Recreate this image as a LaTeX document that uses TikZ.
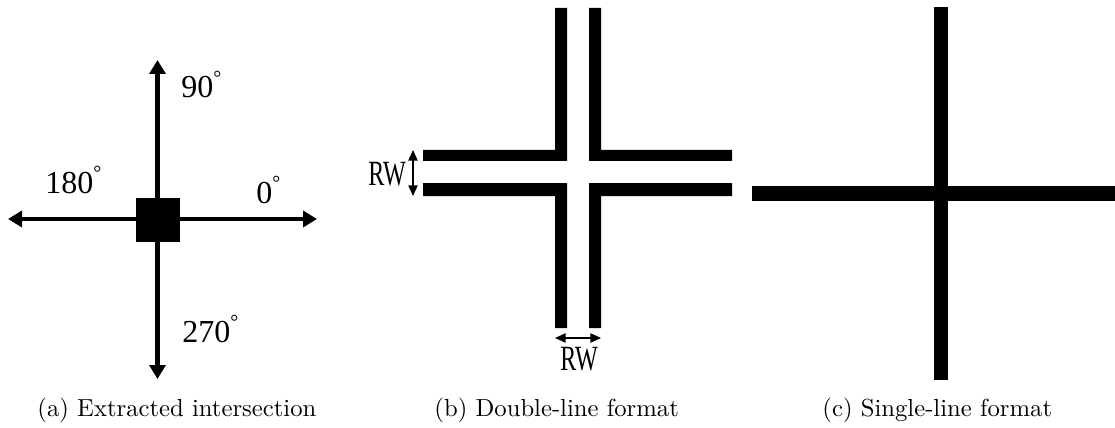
\documentclass[tikz,border=0pt]{standalone}
\usepackage{fontspec}
\newfontfamily\figfont{Liberation Serif}
\usetikzlibrary{arrows.meta}
\newcommand{\degmark}{\raisebox{0.42em}{\fontsize{15}{15}\selectfont°}}
\tikzset{
  axisline/.style={line width=3.4pt,-{Triangle[length=10.5pt,width=12pt]}},
  dimline/.style={line width=1.1pt,{Triangle[length=8pt,width=7pt]}-{Triangle[length=8pt,width=7pt]}},
  anglelab/.style={inner sep=0pt,anchor=base west,font=\figfont\fontsize{24}{24}\selectfont},
  rwlab/.style={inner sep=0pt,xscale=0.95,yscale=1.4,font=\figfont\fontsize{19}{19}\selectfont},
  captext/.style={inner sep=0pt,anchor=base west,scale=1.85,font=\fontsize{10}{12}\selectfont},
  blk/.style={fill=black,inner sep=0pt,minimum size=33pt}
}
\begin{document}
\begin{tikzpicture}[x=0.75pt,y=-0.75pt]
\useasboundingbox (0,0) rectangle (1115,428);
% (a)
\node[blk] (c) at (157.5,220) {};
\coordinate (n) at (157.5,60);
\coordinate (s) at (157.5,379);
\coordinate (w) at (8,219);
\coordinate (e) at (317,219);
\draw[axisline] (c.center) -- (n);
\draw[axisline] (c.center) -- (s);
\draw[axisline] (157.5,219) -- (w);
\draw[axisline] (157.5,219) -- (e);
\node[anglelab] (l90) at (181,98) {90\degmark};
\node[anglelab] (l180) at (45,193) {180\degmark};
\node[anglelab] (l0) at (256,203) {0\degmark};
\node[anglelab] (l270) at (182,342) {270\degmark};
% (b)
\fill (555,8) -- (567,8) -- (567,161) -- (423,161) -- (423,150) -- (555,150) -- cycle;
\fill (589,8) -- (601,8) -- (601,150) -- (732,150) -- (732,161) -- (589,161) -- cycle;
\fill (423,183) -- (567,183) -- (567,328) -- (555,328) -- (555,196) -- (423,196) -- cycle;
\fill (589,183) -- (732,183) -- (732,196) -- (601,196) -- (601,328) -- (589,328) -- cycle;
\coordinate (vt) at (413,150);
\coordinate (vb) at (413,196);
\coordinate (hl) at (555,338);
\coordinate (hr) at (601,338);
\draw[dimline] (vt) -- (vb);
\draw[dimline] (hl) -- (hr);
\node[rwlab] (rw1) at (387,174) {RW};
\node[rwlab] (rw2) at (579,359) {RW};
% (c)
\fill (752,186) rectangle (1115,201);
\fill (934,7) rectangle (948,380);
% captions
\node[captext] (ca) at (37,416) {(a) Extracted intersection};
\node[captext] (cb) at (434,416) {(b) Double-line format};
\node[captext] (cc) at (822,416) {(c) Single-line format};
\end{tikzpicture}
\end{document}
